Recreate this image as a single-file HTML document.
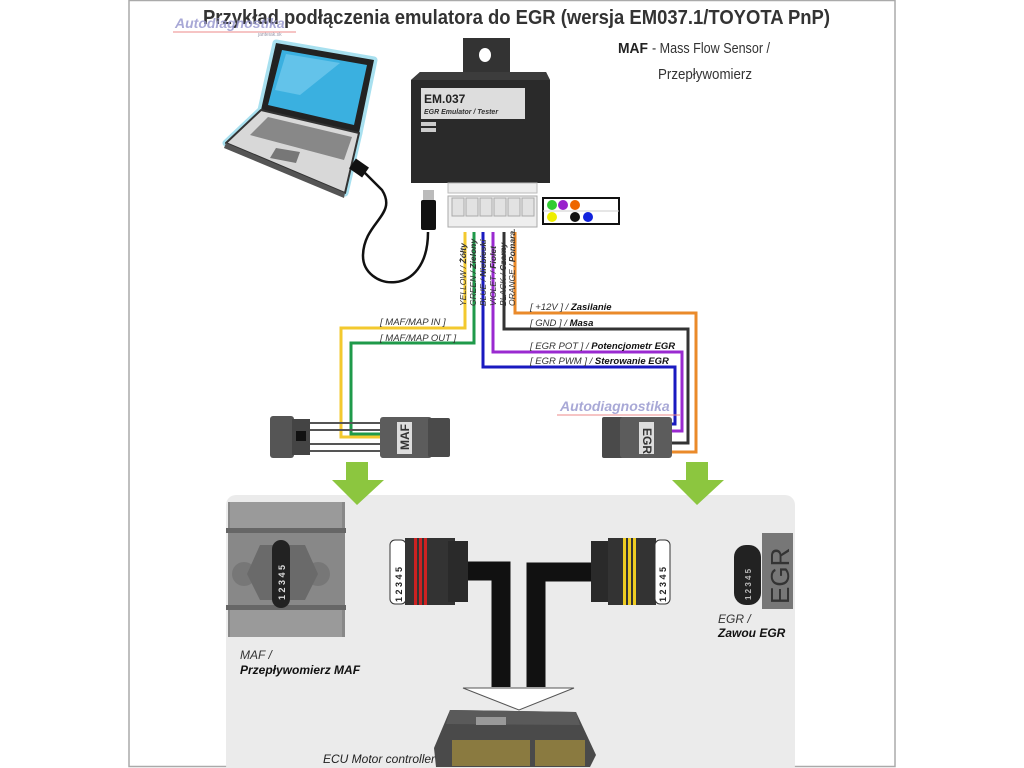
<!DOCTYPE html>
<html><head><meta charset="utf-8"><style>
html,body{margin:0;padding:0;background:#fff;}
svg{display:block;}
text{font-family:"Liberation Sans",sans-serif;}
.n{font-family:"Liberation Sans Narrow","Liberation Sans",sans-serif;}
.l{font-size:9.5px;font-style:italic;fill:#333;}
.lb{font-weight:bold;fill:#111;}
</style></head><body>
<svg width="1024" height="768" viewBox="0 0 1024 768" xmlns="http://www.w3.org/2000/svg">
<rect x="129" y="0.5" width="766" height="766" fill="#fff" stroke="#aaa" stroke-width="1.5"/>
<!-- title -->
<text x="203" y="24" class="n" font-size="20" font-weight="bold" fill="#333" textLength="627" lengthAdjust="spacingAndGlyphs">Przykład podłączenia emulatora do EGR (wersja EM037.1/TOYOTA PnP)</text>
<text x="175" y="28" font-size="14" font-style="italic" font-weight="bold" fill="#9a9ad0" opacity="0.85">Autodiagnostika</text>
<line x1="173" y1="32" x2="296" y2="32" stroke="#e88" stroke-width="1"/>
<text x="258" y="36" font-size="5" fill="#99a">janteiak.sk</text>
<!-- MAF legend -->
<text x="618" y="53" class="n" font-size="15" font-weight="bold" fill="#222" textLength="30" lengthAdjust="spacingAndGlyphs">MAF</text>
<text x="652" y="53" class="n" font-size="15" fill="#333" textLength="118" lengthAdjust="spacingAndGlyphs">- Mass Flow Sensor /</text>
<text x="658" y="79" class="n" font-size="15" fill="#333" textLength="94" lengthAdjust="spacingAndGlyphs">Przepływomierz</text>

<!-- laptop -->
<g stroke-linejoin="round">
<polygon points="276,43 374,60 359,133 261,110" fill="#222" stroke="#a8e0ef" stroke-width="7"/>
<polygon points="261,110 359,133 345,193 226,143" fill="#d8d8d8" stroke="#a8e0ef" stroke-width="7"/>
<polygon points="276,43 374,60 359,133 261,110" fill="#222"/>
<polygon points="282,50 367,65 354,125 268,105" fill="#3ab0e0"/>
<polygon points="286,54 340,63 300,95 275,90" fill="#7fd0f0" opacity="0.6"/>
<polygon points="261,110 359,133 345,193 226,143" fill="#d8d8d8" stroke="#333" stroke-width="2"/>
<polygon points="268,117 352,137 344,160 250,135" fill="#888"/>
<polygon points="276,148 300,152 296,163 270,158" fill="#777"/>
<polygon points="226,143 345,193 344,198 224,148" fill="#555"/>
</g>
<!-- USB cable -->
<path d="M428,232 C428,300 362,290 363,255 C364,222 398,215 382,190 L360,168" fill="none" stroke="#111" stroke-width="2.5"/>
<rect x="351" y="162" width="16" height="12" fill="#111" transform="rotate(35 359 168)"/>
<rect x="423" y="190" width="11" height="12" fill="#bbb"/>
<rect x="421" y="200" width="15" height="30" rx="2" fill="#111"/>

<!-- module -->
<polygon points="463,38 510,38 510,72 546,72 550,80 550,183 411,183 411,80 420,72 463,72" fill="#2a2a2a"/>
<rect x="463" y="38" width="47" height="38" fill="#333"/>
<ellipse cx="485" cy="55" rx="6" ry="7" fill="#fff"/>
<polygon points="420,72 546,72 550,80 411,80" fill="#3c3c3c"/>
<rect x="421" y="88" width="104" height="31" fill="#ddd"/>
<text x="424" y="103" font-size="12" font-weight="bold" fill="#222">EM.037</text>
<text x="424" y="114" font-size="7" font-style="italic" font-weight="bold" fill="#333">EGR Emulator / Tester</text>
<rect x="421" y="122" width="15" height="4" fill="#ccc"/>
<rect x="421" y="128" width="15" height="4" fill="#ccc"/>
<!-- white connector -->
<rect x="448" y="183" width="89" height="10" fill="#eee" stroke="#bbb"/>
<rect x="448" y="196" width="89" height="31" fill="#eee" stroke="#aaa"/>
<g fill="#e2e2e2" stroke="#aaa">
<rect x="452" y="198" width="12" height="18"/><rect x="466" y="198" width="12" height="18"/><rect x="480" y="198" width="12" height="18"/><rect x="494" y="198" width="12" height="18"/><rect x="508" y="198" width="12" height="18"/><rect x="522" y="198" width="12" height="18"/>
</g>
<!-- pin diagram -->
<rect x="543" y="198" width="76" height="26" fill="#fff" stroke="#111" stroke-width="2"/>
<line x1="543" y1="211" x2="619" y2="211" stroke="#ccc"/>
<circle cx="552" cy="205" r="5" fill="#3c3"/><circle cx="563" cy="205" r="5" fill="#92c"/><circle cx="575" cy="205" r="5" fill="#e60"/>
<circle cx="552" cy="217" r="5" fill="#ee0"/><circle cx="575" cy="217" r="5" fill="#111"/><circle cx="588" cy="217" r="5" fill="#12d"/>

<!-- wires -->
<g fill="none" stroke-width="3">
<path d="M465,232 V328 H341 V437 H380" stroke="#f3c92e"/>
<path d="M474,232 V343 H351 V434 H380" stroke="#1f9a4a"/>
<path d="M483,232 V367 H675 V424 H668" stroke="#1a1ac0"/>
<path d="M493,232 V352 H682 V431 H668" stroke="#9a2ad0"/>
<path d="M504,232 V329 H688 V443 H668" stroke="#333"/>
<path d="M515,232 V313 H696 V452 H668" stroke="#ea8a2a"/>
</g>
<!-- rotated wire labels -->
<g font-size="8.5" font-style="italic" fill="#333">
<text transform="translate(466,306) rotate(-90)">YELLOW / <tspan font-weight="bold">Żółty</tspan></text>
<text transform="translate(476,306) rotate(-90)">GREEN / <tspan font-weight="bold">Zielony</tspan></text>
<text transform="translate(486,306) rotate(-90)">BLUE / <tspan font-weight="bold">Niebieski</tspan></text>
<text transform="translate(496,306) rotate(-90)">VIOLET / <tspan font-weight="bold">Fiolet</tspan></text>
<text transform="translate(506,306) rotate(-90)">BLACK / <tspan font-weight="bold">Czarny</tspan></text>
<text transform="translate(515,306) rotate(-90)">ORANGE / <tspan font-weight="bold">Pomara.</tspan></text>
</g>
<text x="380" y="325" class="l">[ MAF/MAP IN ]</text>
<text x="380" y="341" class="l">[ MAF/MAP OUT ]</text>
<text x="530" y="310" class="l">[ +12V ] / <tspan class="lb">Zasilanie</tspan></text>
<text x="530" y="326" class="l">[ GND ] / <tspan class="lb">Masa</tspan></text>
<text x="530" y="349" class="l">[ EGR POT ] / <tspan class="lb">Potencjometr EGR</tspan></text>
<text x="530" y="364" class="l">[ EGR PWM ] / <tspan class="lb">Sterowanie EGR</tspan></text>

<!-- MAF harness -->
<rect x="270" y="416" width="24" height="42" rx="3" fill="#555"/>
<rect x="292" y="419" width="18" height="36" fill="#444"/>
<rect x="296" y="431" width="10" height="10" fill="#111"/>
<g stroke="#555" stroke-width="2"><line x1="310" y1="423" x2="382" y2="423"/><line x1="310" y1="430" x2="382" y2="430"/><line x1="310" y1="444" x2="382" y2="444"/><line x1="310" y1="451" x2="382" y2="451"/></g>
<rect x="380" y="417" width="52" height="41" rx="3" fill="#5c5c5c"/>
<rect x="428" y="418" width="22" height="39" rx="2" fill="#4a4a4a"/>
<rect x="397" y="422" width="15" height="32" fill="#ddd"/>
<text transform="translate(409,450) rotate(-90)" font-size="12" font-weight="bold" fill="#333">MAF</text>
<text x="560" y="411" font-size="14" font-style="italic" font-weight="bold" fill="#9a9ad0" opacity="0.85">Autodiagnostika</text>
<line x1="557" y1="415" x2="680" y2="415" stroke="#e88"/>
<!-- EGR harness -->
<rect x="602" y="417" width="22" height="41" rx="2" fill="#4a4a4a"/>
<rect x="620" y="417" width="52" height="41" rx="3" fill="#5c5c5c"/>
<rect x="639" y="422" width="15" height="32" fill="#ddd"/>
<text transform="translate(643,428) rotate(90)" font-size="12" font-weight="bold" fill="#333">EGR</text>

<!-- bottom panel -->
<rect x="226" y="495" width="569" height="280" rx="10" fill="#ebebeb"/>
<polygon points="346,462 368,462 368,480 384,480 357,505 332,480 346,480" fill="#8cc63f"/>
<polygon points="686,462 708,462 708,480 724,480 697,505 672,480 686,480" fill="#8cc63f"/>
<!-- MAF sensor -->
<rect x="228" y="502" width="117" height="135" fill="#888"/>
<rect x="230" y="502" width="112" height="28" fill="#9a9a9a"/>
<rect x="230" y="607" width="112" height="30" fill="#9a9a9a"/>
<rect x="226" y="528" width="120" height="5" fill="#666"/>
<rect x="226" y="605" width="120" height="5" fill="#666"/>
<circle cx="244" cy="574" r="12" fill="#777"/><circle cx="318" cy="574" r="12" fill="#777"/>
<polygon points="260,545 305,545 318,574 305,600 260,600 247,574" fill="#6a6a6a"/>
<rect x="272" y="540" width="18" height="68" rx="9" fill="#222"/>
<text transform="translate(285,600) rotate(-90)" font-size="9" font-weight="bold" fill="#ddd">1 2 3 4 5</text>
<!-- connectors -->
<rect x="390" y="540" width="16" height="64" rx="5" fill="#fff" stroke="#333"/>
<text transform="translate(402,602) rotate(-90)" font-size="9" font-weight="bold" fill="#222">1 2 3 4 5</text>
<rect x="405" y="538" width="50" height="67" fill="#333"/>
<rect x="414" y="538" width="3" height="67" fill="#c22"/><rect x="419" y="538" width="3" height="67" fill="#c22"/><rect x="424" y="538" width="3" height="67" fill="#c22"/>
<rect x="448" y="541" width="20" height="61" fill="#2a2a2a"/>
<path d="M468,571 H501 V687" fill="none" stroke="#111" stroke-width="19"/>
<path d="M591,572 H536 V687" fill="none" stroke="#111" stroke-width="19"/>
<rect x="591" y="541" width="22" height="61" fill="#2a2a2a"/>
<rect x="608" y="538" width="48" height="67" fill="#333"/>
<rect x="623" y="538" width="3" height="67" fill="#ec2"/><rect x="628" y="538" width="3" height="67" fill="#ec2"/><rect x="633" y="538" width="3" height="67" fill="#ec2"/>
<rect x="655" y="540" width="15" height="64" rx="5" fill="#fff" stroke="#333"/>
<text transform="translate(666,602) rotate(-90)" font-size="9" font-weight="bold" fill="#222">1 2 3 4 5</text>
<!-- white arrow -->
<polygon points="463,688 574,688 519,710" fill="#fff" stroke="#555"/>
<!-- ECU -->
<polygon points="450,710 576,712 596,755 590,767 436,767 434,748" fill="#4a4a4a"/>
<polygon points="450,710 576,712 580,725 446,724" fill="#5a5a5a"/>
<rect x="476" y="717" width="30" height="8" fill="#999"/>
<rect x="452" y="740" width="78" height="26" fill="#8a7a40"/>
<rect x="535" y="740" width="50" height="26" fill="#8a7a40"/>
<!-- EGR valve -->
<rect x="762" y="533" width="31" height="76" fill="#777"/>
<text transform="translate(789,604) rotate(-90)" font-size="26" fill="#333">EGR</text>
<rect x="734" y="545" width="27" height="60" rx="12" fill="#222"/>
<text transform="translate(751,600) rotate(-90)" font-size="8" font-weight="bold" fill="#bbb">1 2 3 4 5</text>
<!-- labels -->
<text x="718" y="623" font-size="12" font-style="italic" fill="#333">EGR /</text>
<text x="718" y="637" font-size="12" font-style="italic" font-weight="bold" fill="#111">Zawou EGR</text>
<text x="240" y="659" font-size="12" font-style="italic" fill="#333">MAF /</text>
<text x="240" y="674" font-size="12" font-style="italic" font-weight="bold" fill="#111">Przepływomierz MAF</text>
<text x="323" y="763" font-size="12" font-style="italic" fill="#222">ECU Motor controller</text>
</svg>
</body></html>
